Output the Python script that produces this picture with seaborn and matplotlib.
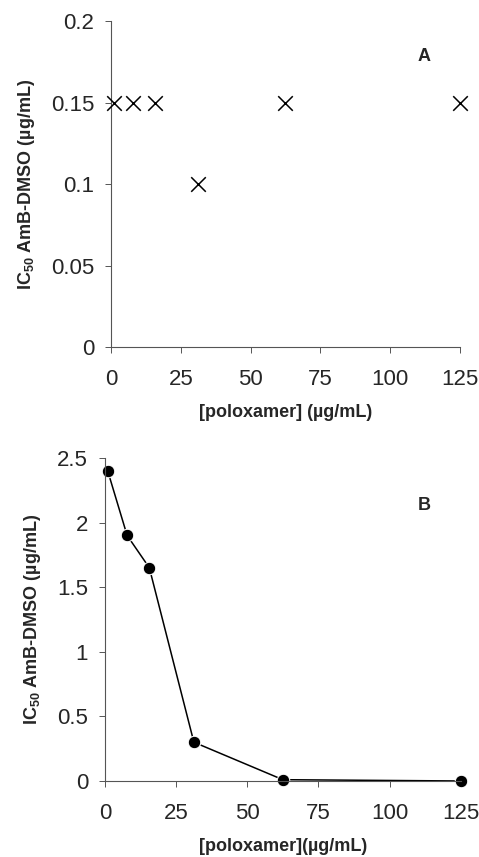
import matplotlib
matplotlib.use("Agg")
import matplotlib.pyplot as plt
import seaborn as sns
import pandas as pd

# poloxamer concentrations (ug/mL) and IC50 values
poloxamer = [0.98, 7.8, 15.6, 31.25, 62.5, 125]
ic50_a = [0.15, 0.15, 0.15, 0.10, 0.15, 0.15]
ic50_b = [2.4, 1.9, 1.65, 0.3, 0.01, 0.0]
xticks = [0, 25, 50, 75, 100, 125]
yticks_a = [0, 0.05, 0.1, 0.15, 0.2]
ytick_labels_a = ["0", "0.05", "0.1", "0.15", "0.2"]
yticks_b = [0, 0.5, 1, 1.5, 2, 2.5]
ytick_labels_b = ["0", "0.5", "1", "1.5", "2", "2.5"]

sns.set_style("white")
plt.rcParams["font.family"] = ["Liberation Sans", "DejaVu Sans"]
plt.rcParams["mathtext.fontset"] = "custom"
plt.rcParams["mathtext.rm"] = "Liberation Sans:bold"

df_a = pd.DataFrame({"x": poloxamer, "y": ic50_a})
df_b = pd.DataFrame({"x": poloxamer, "y": ic50_b})

fig = plt.figure(figsize=(4.79, 8.57), dpi=100)
ax1 = fig.add_axes([0.232, 0.595, 0.728, 0.38])
ax2 = fig.add_axes([0.219, 0.0887, 0.743, 0.377])

# panel A: scatter of crosses
sns.scatterplot(data=df_a, x="x", y="y", marker="x", s=110, color="black",
                linewidth=1.1, ax=ax1, zorder=3, clip_on=False)
ax1.set_xlim(0, 125)
ax1.set_ylim(0, 0.2)
ax1.set_xticks(xticks)
ax1.set_yticks(yticks_a)
ax1.set_yticklabels(ytick_labels_a)
ax1.set_xlabel("[poloxamer] (µg/mL)", fontsize=13, fontweight="bold", labelpad=10)
ax1.set_ylabel(r"IC$_{50}$ AmB-DMSO (µg/mL)", fontsize=13, fontweight="bold", labelpad=10)
ax1.text(0.88, 0.88, "A", transform=ax1.transAxes, fontsize=13, fontweight="bold")

# panel B: line with filled circles
sns.lineplot(data=df_b, x="x", y="y", marker="o", markersize=9, color="black",
             linewidth=1.1, ax=ax2, clip_on=False)
ax2.set_xlim(0, 125)
ax2.set_ylim(0, 2.5)
ax2.set_xticks(xticks)
ax2.set_yticks(yticks_b)
ax2.set_yticklabels(ytick_labels_b)
ax2.set_xlabel("[poloxamer](µg/mL)", fontsize=13, fontweight="bold", labelpad=10)
ax2.set_ylabel(r"IC$_{50}$ AmB-DMSO (µg/mL)", fontsize=13, fontweight="bold", labelpad=10)
ax2.text(0.88, 0.84, "B", transform=ax2.transAxes, fontsize=13, fontweight="bold")

for ax in (ax1, ax2):
    sns.despine(ax=ax)
    for s in ("left", "bottom"):
        ax.spines[s].set_color("#555555")
        ax.spines[s].set_linewidth(0.8)
    ax.tick_params(axis="both", which="major", labelsize=16, length=4, width=0.7,
                   color="#555555", direction="out", left=True, bottom=True)
    ax.tick_params(axis="x", pad=12)
    ax.tick_params(axis="y", pad=8)

fig.savefig("out.png", dpi=100)
